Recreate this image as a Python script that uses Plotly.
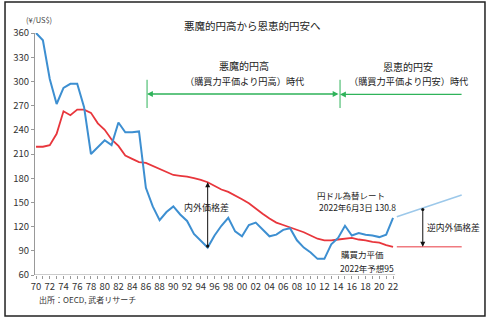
import numpy as np
import plotly.graph_objects as go

# Annual averages, 1970-2022
years = list(range(1970, 2023))
usd_jpy = [360, 351, 303, 272, 292, 297, 297, 268, 210, 219,
           227, 221, 249, 237, 237, 238, 168, 145, 128, 138,
           145, 135, 127, 111, 102, 94, 109, 121, 131, 114,
           108, 122, 125, 116, 108, 110, 116, 118, 103, 94,
           88, 80, 80, 98, 106, 121, 109, 112, 110, 109,
           107, 110, 130.8]
ppp = [219, 219, 221, 235, 263, 258, 265, 265, 261, 248,
       240, 228, 220, 208, 204, 200, 199, 195, 191, 187,
       184, 183, 182, 180, 178, 175, 170, 166, 163, 159,
       154, 149, 142, 136, 130, 125, 122, 119, 116, 113,
       109, 105, 103, 103, 104, 105, 106, 104, 103, 101,
       100, 97, 95]

# Extensions beyond 2022
ext_years = [2022.55, 2032.0]
fx_trend = [132.3, 159.2]
ppp_forecast = [95, 95]

y_ticks = [60, 90, 120, 150, 180, 210, 240, 270, 300, 330, 360]
x_ticktext = [f"{y % 100:02d}" if y % 2 == 0 else "" for y in years]

BLUE = "#3d8fd1"
RED = "#e8363c"
LBLUE = "#9cc8ea"
LRED = "#f07a80"
GREEN = "#2fb35a"
FONT = "Noto Sans CJK JP"

fig = go.Figure()
fig.add_trace(go.Scatter(x=years, y=ppp, mode="lines",
                         line=dict(color=RED, width=1.8), hoverinfo="skip"))
fig.add_trace(go.Scatter(x=years, y=usd_jpy, mode="lines",
                         line=dict(color=BLUE, width=2), hoverinfo="skip"))
fig.add_trace(go.Scatter(x=ext_years, y=fx_trend, mode="lines",
                         line=dict(color=LBLUE, width=1.5), hoverinfo="skip"))
fig.add_trace(go.Scatter(x=ext_years, y=ppp_forecast, mode="lines",
                         line=dict(color=LRED, width=1.5), hoverinfo="skip"))

# x-axis baseline only under the historical period
fig.add_shape(type="line", xref="x", yref="y", x0=1969.85, x1=2022.3, y0=60, y1=60,
              line=dict(color="#999999", width=1))

# period markers
t1, t2, t_end = 1986.17, 2014.28, 2032.2
for t in (t1, t2):
    fig.add_shape(type="line", xref="x", yref="y", x0=t, x1=t, y0=267, y1=302,
                  line=dict(color=GREEN, width=1))
fig.add_annotation(x=t1, y=284.4, ax=t2, ay=284.4, xref="x", yref="y", axref="x", ayref="y",
                   text="", showarrow=True, arrowhead=2, startarrowhead=2, arrowside="end+start",
                   arrowsize=0.9, arrowwidth=1.3, arrowcolor=GREEN)
fig.add_annotation(x=t2, y=283.8, ax=t_end, ay=283.8, xref="x", yref="y", axref="x", ayref="y",
                   text="", showarrow=True, arrowhead=2, arrowside="end",
                   arrowsize=0.9, arrowwidth=1.3, arrowcolor=GREEN)

# price-gap arrows
gap_year = 1995
i = years.index(gap_year)
fig.add_annotation(x=gap_year, y=ppp[i], ax=gap_year, ay=usd_jpy[i],
                   xref="x", yref="y", axref="x", ayref="y", text="", showarrow=True,
                   arrowhead=2, startarrowhead=6, arrowside="end+start",
                   arrowsize=1, startarrowsize=0.8, arrowwidth=1, arrowcolor="#111111")
rev_year = 2026.33
rev_top = float(np.interp(rev_year, ext_years, fx_trend))
rev_bot = float(np.interp(rev_year, ext_years, ppp_forecast))
fig.add_annotation(x=rev_year, y=rev_bot, ax=rev_year, ay=rev_top,
                   xref="x", yref="y", axref="x", ayref="y", text="", showarrow=True,
                   arrowhead=2, startarrowhead=6, arrowside="end+start",
                   arrowsize=1, startarrowsize=0.8, arrowwidth=1, arrowcolor="#111111")

def label(x, y, text, size=9, xanchor="center", xref="x", yref="y", color="#222222"):
    fig.add_annotation(x=x, y=y, text=text, showarrow=False, xref=xref, yref=yref,
                       xanchor=xanchor, yanchor="middle",
                       font=dict(family=FONT, size=size, color=color))

label(0.497, 1.029, "悪魔的円高から恩恵的円安へ", size=10.5, xref="paper", yref="paper")
label(0.009, 1.054, "(¥/US$)", size=7.5, xref="paper", yref="paper", color="#444444")
label(2000.3, 320.3, "悪魔的円高", size=10)
label(2000.3, 300.5, "（購買力平価より円高）時代", size=9.2)
label(2024.2, 317.9, "恩恵的円安", size=10)
label(2024.2, 300.5, "（購買力平価より円安）時代", size=9.2)
label(1994.8, 143.1, "内外価格差", size=9)
label(2015.9, 159.2, "円ドル為替レート", size=8.5)
label(2016.8, 144.7, "2022年6月3日 130.8", size=8.5)
label(2017.5, 86.0, "購買力平価", size=8.5)
label(2018.2, 68.7, "2022年予想95", size=8.5)
label(2026.7, 118.3, "逆内外価格差", size=8.8, xanchor="left")
label(0.0046, -0.103, "出所：OECD, 武者リサーチ", size=8, xanchor="left",
      xref="paper", yref="paper", color="#333333")

# outer frame
fig.add_shape(type="rect", xref="paper", yref="paper", x0=-0.0686, x1=1.0297,
              y0=-0.1694, y1=1.128, line=dict(color="#222222", width=1.5), layer="below")

fig.update_layout(
    width=490, height=322,
    margin=dict(l=35, r=18, t=33, b=47),
    paper_bgcolor="white", plot_bgcolor="white",
    showlegend=False,
    font=dict(family=FONT, color="#333333"),
    xaxis=dict(range=[1969.85, 2033.5], tickvals=years, ticktext=x_ticktext,
               ticks="outside", ticklen=3, tickcolor="#999999", showgrid=False,
               zeroline=False, showline=False, tickfont=dict(size=9.5, color="#333333")),
    yaxis=dict(range=[60, 360], tickvals=y_ticks, ticks="outside", ticklen=3,
               tickcolor="#999999", showgrid=False, zeroline=False, showline=True,
               linecolor="#999999", linewidth=1, tickfont=dict(size=9.5, color="#333333")),
)

fig.write_html("out.html")
